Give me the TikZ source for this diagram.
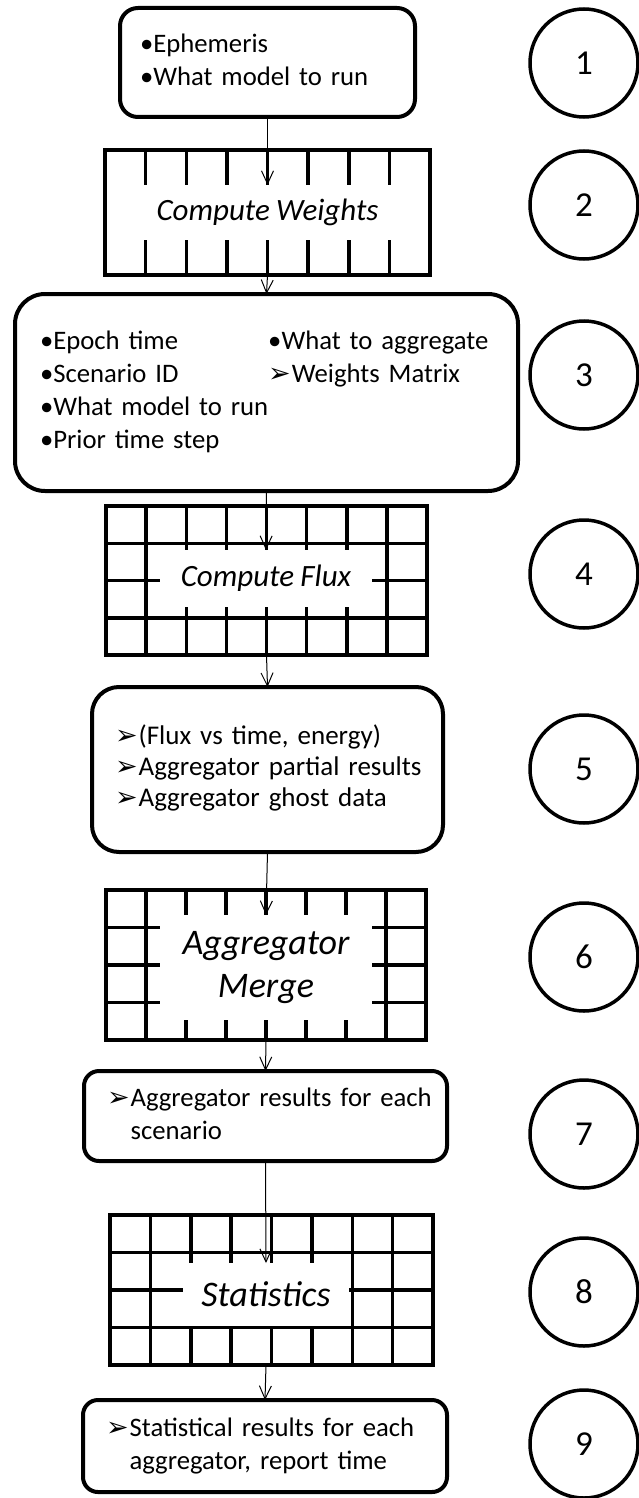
\documentclass[tikz,border=0pt]{standalone}
\usepackage{fontspec}
\setmainfont{Carlito}[WordSpace=0.9]
\newfontfamily\djv{DejaVu Sans}
\usetikzlibrary{arrows.meta,calc}
\newcommand\arrhd{{\djv\fontsize{27}{27}\selectfont ➢}\kern1pt}
\newcommand\vlines[2]{\pgfmathtruncatemacro\nm{#2-1}\foreach \k in {1,...,\nm}{\draw[gridline] ($(#1.north west)!\k/#2!(#1.north east)$) -- ($(#1.south west)!\k/#2!(#1.south east)$);}}
\newcommand\hlines[2]{\pgfmathtruncatemacro\nm{#2-1}\foreach \k in {1,...,\nm}{\draw[gridline] ($(#1.north west)!\k/#2!(#1.south west)$) -- ($(#1.north east)!\k/#2!(#1.south east)$);}}
\begin{document}
\begin{tikzpicture}[x=1pt,y=-1pt,
  every node/.style={outer sep=0pt},
  txtbox/.style={draw, line width=4pt, rounded corners=#1, align=left, font=\fontsize{26.7}{33}\selectfont},
  txtbox/.default=18pt,
  gridbox/.style={draw, line width=3.5pt, inner sep=0pt},
  gridline/.style={line width=3.5pt},
  lbl/.style={fill=white, inner sep=0pt, align=center, font=\itshape\fontsize{31}{38}\selectfont},
  num/.style={circle, draw, line width=3.5pt, minimum size=108pt, inner sep=0pt, font=\fontsize{35}{35}\selectfont},
  conn/.style={line width=1pt, -{Straight Barb[length=13pt,width=12pt,line width=1pt]}}
]
\useasboundingbox (0,0) rectangle (639,1498);

% step 1
\node[txtbox=18pt, text width=255pt, inner xsep=20pt, minimum height=109pt] (b1) at (267.5,62.5)
  {\begin{tabular}{@{}l@{}}•Ephemeris\\•What model to run\end{tabular}};
% step 2
\node[gridbox, minimum width=325pt, minimum height=125pt] (cw) at (267.5,212.5) {};
\vlines{cw}{8}
\node[lbl, minimum width=270pt, minimum height=55pt] (cwl) at (267.5,212.5) {Compute Weights};
% step 3
\node[txtbox=30pt, text width=453pt, inner xsep=25pt, minimum height=197pt] (b3) at (266.5,392.5)
  {\begin{tabular}{@{}l@{}l@{}}\makebox[227pt][l]{•Epoch time} & •What to aggregate\\ •Scenario ID & \arrhd Weights Matrix\\ •What model to run & \\ •Prior time step & \end{tabular}};
% step 4
\node[gridbox, minimum width=321pt, minimum height=149pt] (cf) at (266.5,580.5) {};
\vlines{cf}{8}
\hlines{cf}{4}
\node[lbl, minimum width=212pt, minimum height=57pt] (cfl) at (266,578.5) {Compute Flux};
% step 5
\node[txtbox=27pt, text width=305pt, inner xsep=23pt, minimum height=165pt, font=\fontsize{27}{31}\selectfont] (b5) at (267.5,769.5)
  {\begin{tabular}{@{}l@{}}\arrhd(Flux vs time, energy)\\ \arrhd Aggregator partial results\\ \arrhd Aggregator ghost data\end{tabular}};
% step 6
\node[gridbox, minimum width=320pt, minimum height=150pt] (am) at (266,965) {};
\vlines{am}{8}
\hlines{am}{4}
\node[lbl, font=\itshape\fontsize{36}{43}\selectfont, minimum width=212pt, minimum height=105pt] (aml) at (266,967.5) {Aggregator\\Merge};
% step 7
\node[txtbox=15pt, text width=317pt, inner xsep=23pt, minimum height=90pt] (b7) at (265.5,1116)
  {\begin{tabular}{@{}l@{}l@{}}\arrhd & Aggregator results for each\\ & scenario\end{tabular}};
% step 8
\node[gridbox, minimum width=323pt, minimum height=150pt] (st) at (271.5,1290) {};
\vlines{st}{8}
\hlines{st}{4}
\node[lbl, font=\itshape\fontsize{36}{43}\selectfont, minimum width=166pt, minimum height=62.5pt] (stl) at (266,1294.25) {Statistics};
% step 9
\node[txtbox=15pt, text width=318pt, inner xsep=23pt, minimum height=92pt] (b9) at (265,1446)
  {\begin{tabular}{@{}l@{}l@{}}\arrhd & Statistical results for each\\ & aggregator, report time\end{tabular}};

% numbers
\node[num] (n1) at (584,63) {1};
\node[num] (n2) at (584,205) {2};
\node[num] (n3) at (584,375) {3};
\node[num] (n4) at (584,574) {4};
\node[num] (n5) at (584,769) {5};
\node[num] (n6) at (584,957) {6};
\node[num] (n7) at (584,1134) {7};
\node[num] (n8) at (584,1292) {8};
\node[num] (n9) at (584,1444) {9};

% connectors
\draw[conn] (b1.south) -- (cwl.north);
\draw[conn] (cw.south) -- (b3.north);
\draw[conn] (b3.south) -- (cfl.north);
\draw[conn] (cf.south) -- (b5.north);
\draw[conn] (b5.south) -- (aml.north);
\draw[conn] (am.south) -- (b7.north);
\draw[conn] (b7.south) -- (stl.north);
\draw[conn] (st.south -| stl.south) -- (b9.north);
\end{tikzpicture}
\end{document}
